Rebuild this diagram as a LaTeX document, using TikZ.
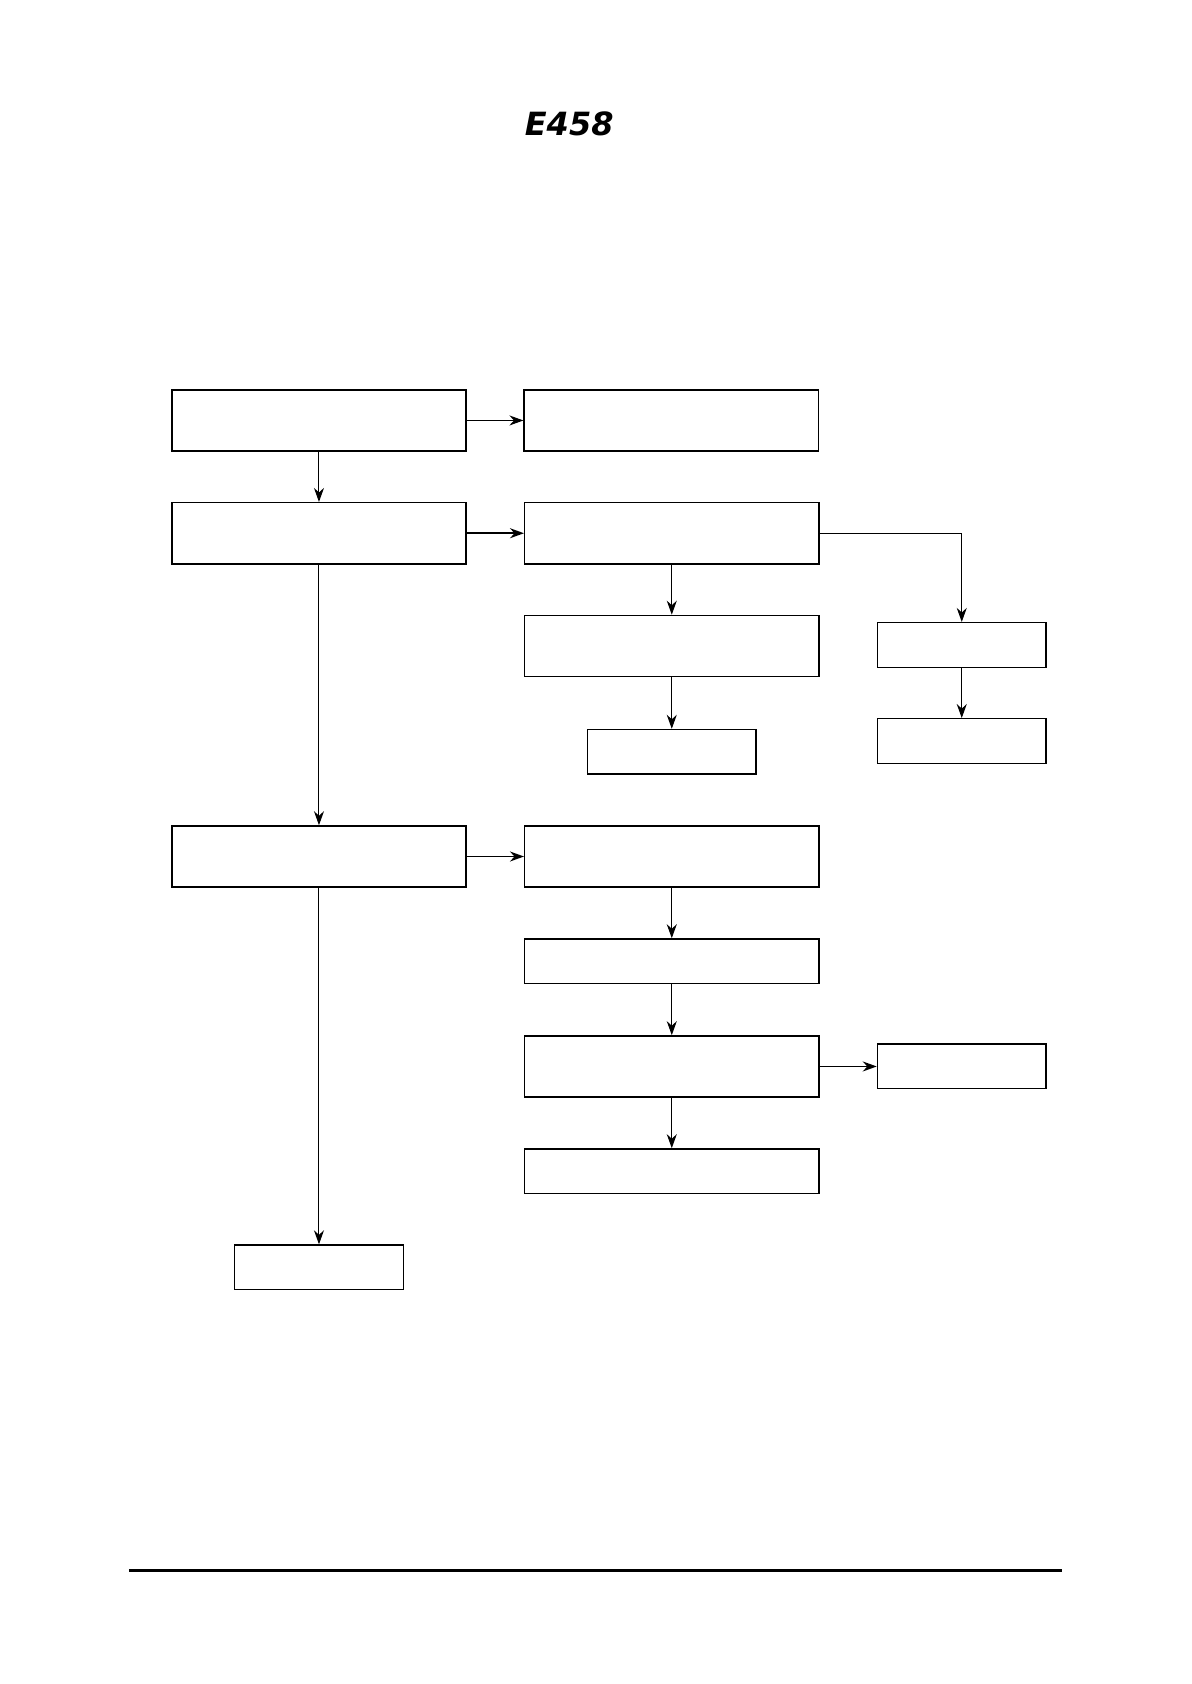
\documentclass[tikz,border=0pt]{standalone}
\usepackage{fontspec}
\setsansfont{DejaVu Sans}
\usepackage{tikz}
\usetikzlibrary{arrows.meta,positioning}

\begin{document}
\begin{tikzpicture}[
  x=0.537pt, y=-0.537pt,
  box/.style={draw, line width=0.7pt, minimum width=147.1pt, minimum height=30.6pt, inner sep=0pt},
  flatbox/.style={draw, line width=0.7pt, minimum width=147.1pt, minimum height=22.3pt, inner sep=0pt},
  smallbox/.style={draw, line width=0.7pt, minimum width=84.3pt, minimum height=22.3pt, inner sep=0pt},
  arrow/.style={-{Stealth[length=7pt, width=5pt]}, line width=0.8pt},
  thinarrow/.style={-{Stealth[length=7pt, width=5pt]}, line width=0.5pt}
]
\useasboundingbox (0,0) rectangle (1109,1568);

\node[font=\sffamily\bfseries\itshape\fontsize{16}{16}\selectfont] (code) at (530,115) {E458};

% left column
\node[box] (first) at (297,391.5) {};
\node[box] (second) at (297,496.5) {};
\node[box] (third) at (297,797.5) {};
\node[smallbox] (last) at (297,1180) {};

% upper branch
\node[box] (firstR) at (625,391.5) {};
\node[box] (secondR) at (625.5,496.5) {};
\node[box] (checkA) at (625.5,601.5) {};
\node[smallbox] (endA) at (625.5,700) {};
\node[smallbox] (checkB) at (895.5,600.5) {};
\node[smallbox] (endB) at (895.5,690) {};

% lower branch
\node[box] (thirdR) at (625.5,797.5) {};
\node[flatbox] (stepA) at (625.5,895) {};
\node[box] (stepB) at (625.5,993) {};
\node[smallbox] (endC) at (895.5,993) {};
\node[flatbox] (endD) at (625.5,1090.5) {};

\draw[arrow] (first) -- (firstR);
\draw[thinarrow] (first) -- (second);
\draw[arrow] (second) -- (secondR);
\draw[thinarrow] (second) -- (third);
\draw[thinarrow] (secondR) -- (checkA);
\draw[thinarrow] (checkA) -- (endA);
\draw[thinarrow] (secondR.east) -| (checkB.north);
\draw[thinarrow] (checkB) -- (endB);
\draw[arrow] (third) -- (thirdR);
\draw[thinarrow] (third) -- (last);
\draw[thinarrow] (thirdR) -- (stepA);
\draw[thinarrow] (stepA) -- (stepB);
\draw[arrow] (stepB) -- (endC);
\draw[thinarrow] (stepB) -- (endD);

\coordinate (ruleL) at (120,1462);
\coordinate (ruleR) at (989,1462);
\draw[line width=1.6pt] (ruleL) -- (ruleR);
\end{tikzpicture}
\end{document}
